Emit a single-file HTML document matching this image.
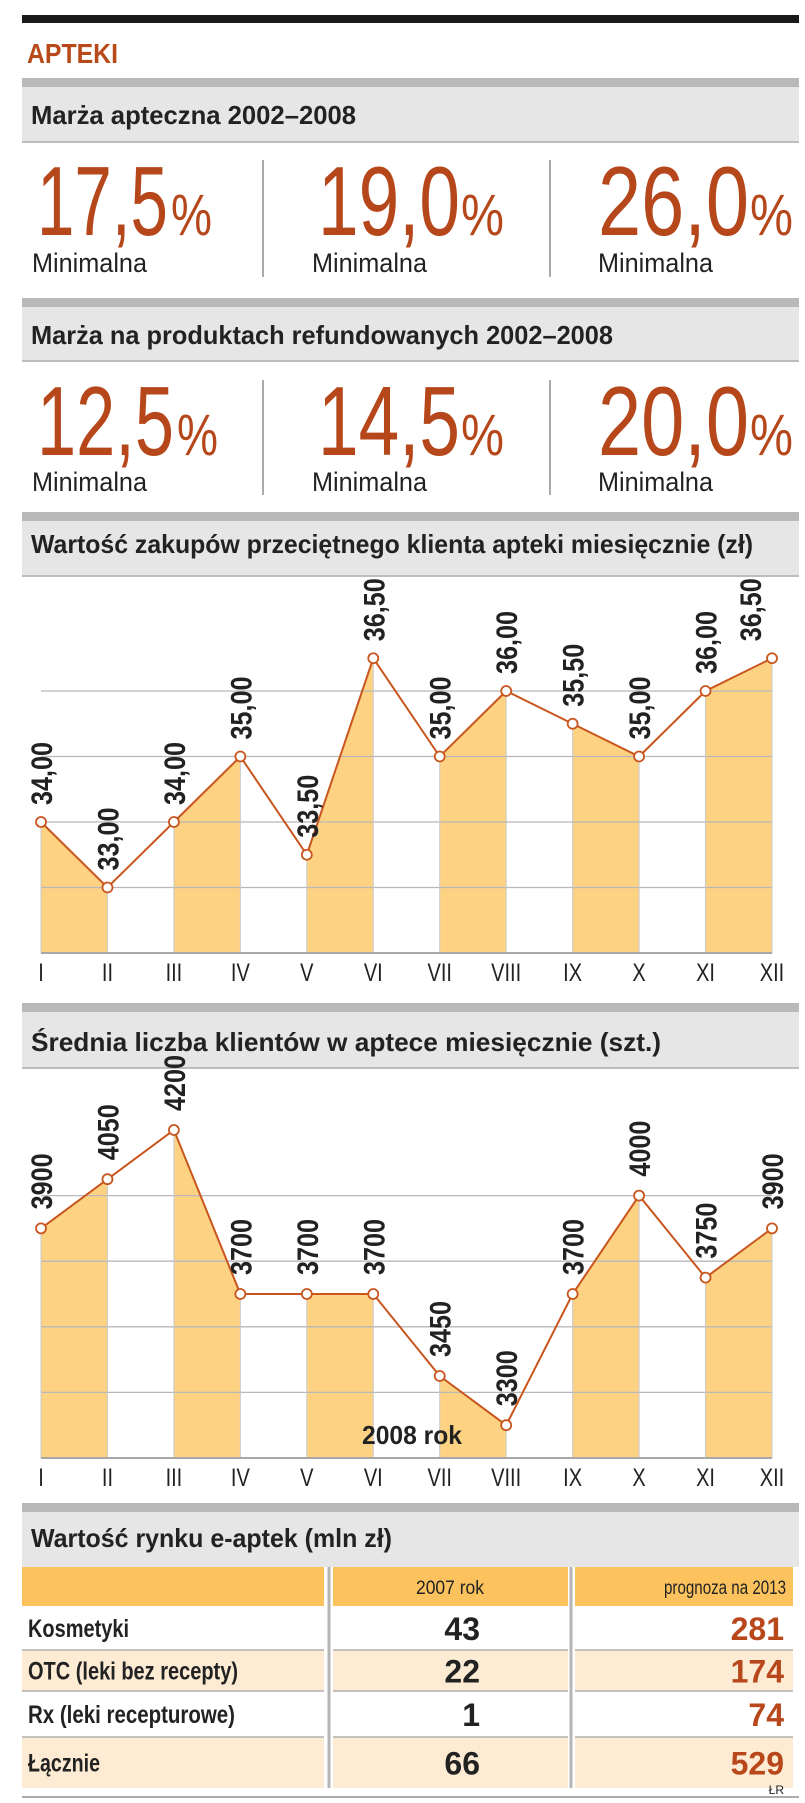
<!DOCTYPE html>
<html><head><meta charset="utf-8">
<style>
html,body{margin:0;padding:0;background:#fff;}
svg{display:block;}
text{font-family:"Liberation Sans Narrow","Liberation Sans",sans-serif;}
</style></head>
<body>
<svg id="page" width="805" height="1803" viewBox="0 0 805 1803" xmlns="http://www.w3.org/2000/svg">
  <rect x="22" y="15" width="777" height="8" fill="#1a1a1a"/>
  <text x="27" y="63" font-size="28" font-weight="bold" fill="#b84a1a" textLength="91" lengthAdjust="spacingAndGlyphs">APTEKI</text>

  <g>
    <rect x="22" y="78" width="777" height="9" fill="#b9b9b9"/>
    <rect x="22" y="87" width="777" height="55" fill="#e6e6e6"/>
    <rect x="22" y="141" width="777" height="2" fill="#bdbdbd"/>
    <text x="31" y="124" font-size="26" font-weight="bold" fill="#222" textLength="325" lengthAdjust="spacingAndGlyphs">Marża apteczna 2002–2008</text>
  </g>
  <g>
    <rect x="262" y="160" width="2" height="117" fill="#aaa"/>
    <rect x="549" y="160" width="2" height="117" fill="#aaa"/>
    <text x="37" y="235" font-size="98" fill="#b5471b" textLength="131" lengthAdjust="spacingAndGlyphs">17,5</text>
    <text x="171" y="235" font-size="58" fill="#b5471b" textLength="41" lengthAdjust="spacingAndGlyphs">%</text>
    <text x="32" y="272" font-size="27" fill="#222" textLength="115" lengthAdjust="spacingAndGlyphs">Minimalna</text>
    <text x="318" y="235" font-size="98" fill="#b5471b" textLength="142" lengthAdjust="spacingAndGlyphs">19,0</text>
    <text x="461" y="235" font-size="58" fill="#b5471b" textLength="43" lengthAdjust="spacingAndGlyphs">%</text>
    <text x="312" y="272" font-size="27" fill="#222" textLength="115" lengthAdjust="spacingAndGlyphs">Minimalna</text>
    <text x="598" y="235" font-size="98" fill="#b5471b" textLength="151" lengthAdjust="spacingAndGlyphs">26,0</text>
    <text x="750" y="235" font-size="58" fill="#b5471b" textLength="43" lengthAdjust="spacingAndGlyphs">%</text>
    <text x="598" y="272" font-size="27" fill="#222" textLength="115" lengthAdjust="spacingAndGlyphs">Minimalna</text>
  </g>

  <g>
    <rect x="22" y="298" width="777" height="9" fill="#b9b9b9"/>
    <rect x="22" y="307" width="777" height="54" fill="#e6e6e6"/>
    <rect x="22" y="360" width="777" height="2" fill="#bdbdbd"/>
    <text x="31" y="344" font-size="26" font-weight="bold" fill="#222" textLength="582" lengthAdjust="spacingAndGlyphs">Marża na produktach refundowanych 2002–2008</text>
  </g>
  <g>
    <rect x="262" y="380" width="2" height="115" fill="#aaa"/>
    <rect x="549" y="380" width="2" height="115" fill="#aaa"/>
    <text x="37" y="455" font-size="98" fill="#b5471b" textLength="137" lengthAdjust="spacingAndGlyphs">12,5</text>
    <text x="177" y="455" font-size="58" fill="#b5471b" textLength="41" lengthAdjust="spacingAndGlyphs">%</text>
    <text x="32" y="491" font-size="27" fill="#222" textLength="115" lengthAdjust="spacingAndGlyphs">Minimalna</text>
    <text x="318" y="455" font-size="98" fill="#b5471b" textLength="142" lengthAdjust="spacingAndGlyphs">14,5</text>
    <text x="461" y="455" font-size="58" fill="#b5471b" textLength="43" lengthAdjust="spacingAndGlyphs">%</text>
    <text x="312" y="491" font-size="27" fill="#222" textLength="115" lengthAdjust="spacingAndGlyphs">Minimalna</text>
    <text x="598" y="455" font-size="98" fill="#b5471b" textLength="151" lengthAdjust="spacingAndGlyphs">20,0</text>
    <text x="750" y="455" font-size="58" fill="#b5471b" textLength="43" lengthAdjust="spacingAndGlyphs">%</text>
    <text x="598" y="491" font-size="27" fill="#222" textLength="115" lengthAdjust="spacingAndGlyphs">Minimalna</text>
  </g>

  <g>
    <rect x="22" y="512" width="777" height="9" fill="#b9b9b9"/>
    <rect x="22" y="521" width="777" height="55" fill="#e6e6e6"/>
    <rect x="22" y="575" width="777" height="2" fill="#bdbdbd"/>
    <text x="31" y="553" font-size="26" font-weight="bold" fill="#222" textLength="722" lengthAdjust="spacingAndGlyphs">Wartość zakupów przeciętnego klienta apteki miesięcznie (zł)</text>
  </g>
  <g id="chart1"></g>

  <g>
    <rect x="22" y="1003" width="777" height="9" fill="#b9b9b9"/>
    <rect x="22" y="1012" width="777" height="56" fill="#e6e6e6"/>
    <rect x="22" y="1067" width="777" height="2" fill="#bdbdbd"/>
    <text x="31" y="1051" font-size="26" font-weight="bold" fill="#222" textLength="630" lengthAdjust="spacingAndGlyphs">Średnia liczba klientów w aptece miesięcznie (szt.)</text>
  </g>
  <g id="chart2"></g>

  <g>
    <rect x="22" y="1503" width="777" height="9" fill="#b9b9b9"/>
    <rect x="22" y="1512" width="777" height="55" fill="#e6e6e6"/>
    <text x="31" y="1547" font-size="26" font-weight="bold" fill="#222" textLength="361" lengthAdjust="spacingAndGlyphs">Wartość rynku e-aptek (mln zł)</text>
  </g>
  <g id="table"></g>
</svg>
<script>
const NS = 'http://www.w3.org/2000/svg';
// Chart 1 data
const months = ['I','II','III','IV','V','VI','VII','VIII','IX','X','XI','XII'];
const purchaseValues = [34.0,33.0,34.0,35.0,33.5,36.5,35.0,36.0,35.5,35.0,36.0,36.5];
const purchaseLabels = ['34,00','33,00','34,00','35,00','33,50','36,50','35,00','36,00','35,50','35,00','36,00','36,50'];
const purchaseGrid = [33,34,35,36];
// Chart 2 data
const clientValues = [3900,4050,4200,3700,3700,3700,3450,3300,3700,4000,3750,3900];
const clientLabels = ['3900','4050','4200','3700','3700','3700','3450','3300','3700','4000','3750','3900'];
const clientGrid = [3400,3600,3800,4000];
// Table data
const tableRows = ['Kosmetyki','OTC (leki bez recepty)','Rx (leki recepturowe)','Łącznie'];
const values2007 = [43,22,1,66];
const values2013 = [281,174,74,529];

function el(tag, attrs, parent){
  const e = document.createElementNS(NS, tag);
  for (const k in attrs) e.setAttribute(k, attrs[k]);
  parent.appendChild(e);
  return e;
}

function drawChart(g, vals, labels, grid, yScaleFn, base, lblGap, lblLen, name, lastShift, note){
  const x0 = 41, x1 = 772;
  const xs = i => x0 + i*(x1-x0)/(vals.length-1);
  const ys = yScaleFn;
  for (let i=0;i<vals.length-1;i+=2){
    const p = el('polygon',{points:`${xs(i)},${base} ${xs(i)},${ys(vals[i])} ${xs(i+1)},${ys(vals[i+1])} ${xs(i+1)},${base}`, fill:'#fdd283'}, g);
    
    
  }
  grid.forEach(v=>{
    const l = el('line',{x1:x0,x2:x1,y1:ys(v),y2:ys(v),stroke:'#b8b8b8','stroke-width':1.3}, g);
    
    
  });
  for (let i=0;i<vals.length;i++){
    const l = el('line',{x1:xs(i),x2:xs(i),y1:base,y2:ys(vals[i]),stroke:'#c9c9c9','stroke-width':1}, g);
    
    
  }
  const b = el('line',{x1:x0,x2:x1,y1:base,y2:base,stroke:'#a8a8a8','stroke-width':2}, g);
  
  
  if (note){
    const t = el('text',{x:412,y:1444,'font-size':26,'font-weight':'bold',fill:'#222','text-anchor':'middle',textLength:100,lengthAdjust:'spacingAndGlyphs'}, g);
    t.textContent = note;
    
    
  }
  const pts = vals.map((v,i)=>xs(i)+','+ys(v)).join(' ');
  const pl = el('polyline',{points:pts,fill:'none',stroke:'#c8561e','stroke-width':2}, g);
  
  
  vals.forEach((v,i)=>{
    const c = el('circle',{cx:xs(i),cy:ys(v),r:5,fill:'#fff',stroke:'#c8561e','stroke-width':1.8}, g);
    
    
    const lx = xs(i) + 11 + (i===vals.length-1 ? lastShift : 0);
    const ly = ys(v) - lblGap;
    const t = el('text',{x:lx,y:ly,'font-size':30,'font-weight':'bold',fill:'#222',transform:`rotate(-90 ${lx} ${ly})`,'font-family':'Liberation Sans, sans-serif',textLength:lblLen,lengthAdjust:'spacingAndGlyphs'}, g);
    t.textContent = labels[i];
    
    
    const m = el('text',{x:xs(i),y:base+28,'font-size':25,fill:'#222','text-anchor':'middle',transform:`translate(${xs(i)} 0) scale(0.8 1) translate(${-xs(i)} 0)`}, g);
    m.textContent = months[i];
    
    
  });
}

drawChart(document.getElementById('chart1'), purchaseValues, purchaseLabels, purchaseGrid,
  v => 953 - (v-32)*65.5, 953, 17, 63, 'purchase', -22, null);
drawChart(document.getElementById('chart2'), clientValues, clientLabels, clientGrid,
  v => 1458 - (v-3200)*0.328, 1458, 19, 56, 'clients', 0, '2008 rok');

(function(){
  const g = document.getElementById('table');
  const cols = [[22,302],[333,235],[575,218]];
  cols.forEach(([x,w])=>{
    const r = el('rect',{x:x,y:1567,width:w,height:39,fill:'#fbc25e'}, g);
    
    
  });
  const h1 = el('text',{x:450,y:1594,'font-size':19,fill:'#222','text-anchor':'middle',textLength:68,lengthAdjust:'spacingAndGlyphs'}, g);
  h1.textContent = '2007 rok';
  
  
  const h2 = el('text',{x:786,y:1594,'font-size':19,fill:'#222','text-anchor':'end',textLength:122,lengthAdjust:'spacingAndGlyphs'}, g);
  h2.textContent = 'prognoza na 2013';
  
  
  const rowTop = [1606,1650,1691,1737];
  const rowH = [44,41,46,51];
  const labelTextLen = [101,210,207,72];
  tableRows.forEach((name,i)=>{
    const fill = i%2 ? '#fdebd3' : '#ffffff';
    cols.forEach(([x,w])=>{
      const r = el('rect',{x:x,y:rowTop[i],width:w,height:rowH[i],fill:fill}, g);
      
      
      if (i>0){
        const l = el('line',{x1:x,x2:x+w,y1:rowTop[i],y2:rowTop[i],stroke:'#b0b0b0','stroke-width':1.5}, g);
        
        
      }
    });
    const cy = rowTop[i] + rowH[i]/2 + 9;
    const t = el('text',{x:28,y:cy,'font-size':25,'font-weight':'bold',fill:'#222',textLength:labelTextLen[i],lengthAdjust:'spacingAndGlyphs'}, g);
    t.textContent = name;
    
    
    const a = el('text',{x:480,y:cy+3,'font-size':32,'font-weight':'bold',fill:'#222','text-anchor':'end'}, g);
    a.textContent = values2007[i];
    
    
    const b = el('text',{x:784,y:cy+3,'font-size':32,'font-weight':'bold',fill:'#b8471c','text-anchor':'end'}, g);
    b.textContent = values2013[i];
    
    
  });
  [329,571].forEach(x=>{
    const l = el('line',{x1:x,x2:x,y1:1567,y2:1788,stroke:'#b5b5b5','stroke-width':3}, g);
    
    
  });
  const s = el('text',{x:784,y:1794,'font-size':12,fill:'#222','text-anchor':'end'}, g);
  s.textContent = 'ŁR';
  
  
  const bl = el('line',{x1:22,x2:799,y1:1797,y2:1797,stroke:'#aaa','stroke-width':2}, g);
  
  
})();
</script>
</body></html>
